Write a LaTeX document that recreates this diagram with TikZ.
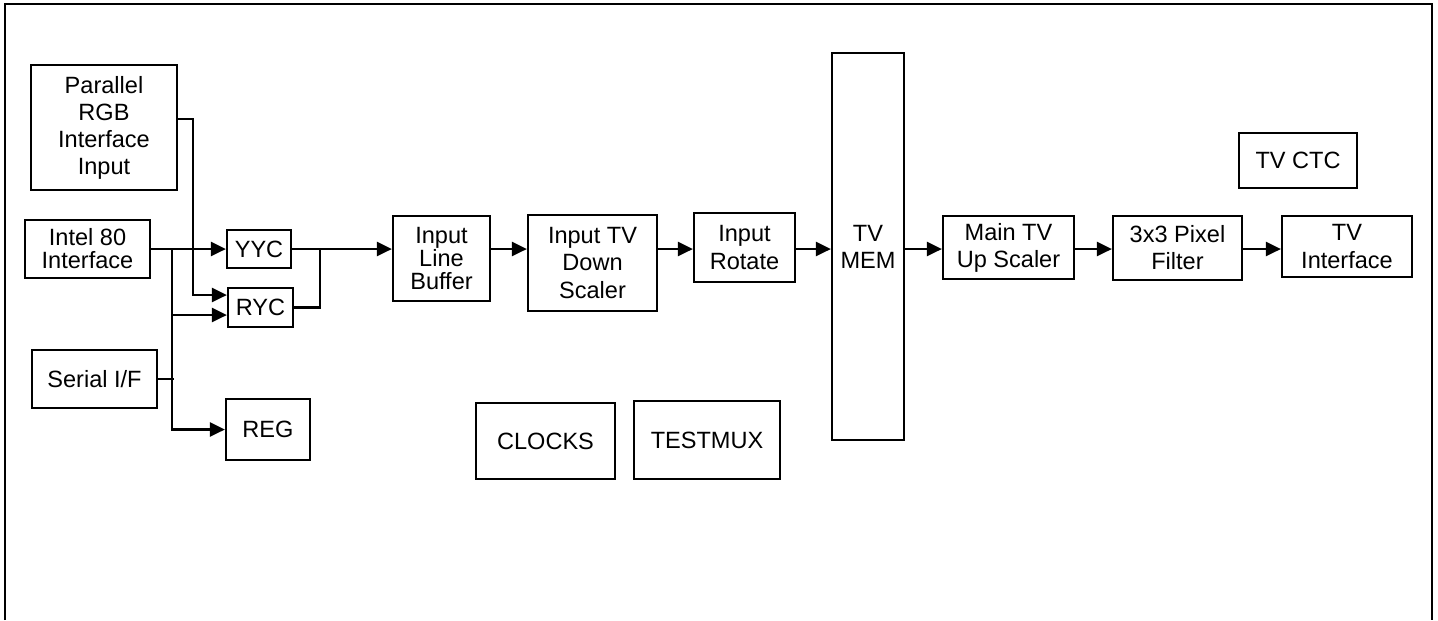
\documentclass[tikz,border=0pt]{standalone}
\usepackage{fontspec}
\setmainfont{Liberation Sans}
\usepackage{tikz}
\usetikzlibrary{positioning, arrows.meta, calc}
\tikzset{
  block/.style={
    draw, line width=1.3pt,
    align=center, inner sep=1pt,
    font=\fontsize{13.4}{15.4}\selectfont
  },
  tight/.style={font=\fontsize{13.4}{13.1}\selectfont},
  io/.style={-{Triangle[length=8.5pt,width=8pt]}, line width=1.2pt},
  wire/.style={line width=1.2pt},
  frame/.style={line width=0.6pt}
}
\begin{document}
\begin{tikzpicture}
  \useasboundingbox (0,0) rectangle (28.76,-12.4);
  % Frame (open at the bottom)
  \draw[frame] (0.1,-12.4) -- (0.1,-0.08) -- (28.64,-0.08) -- (28.64,-12.4);

  % Inputs
  \node[block, minimum width=2.92cm, minimum height=2.5cm] (prgb) at (2.08,-2.55) {Parallel\\RGB\\Interface\\Input};
  \node[block, tight, minimum width=2.5cm, minimum height=1.16cm] (intel) at (1.75,-4.98) {Intel 80\\Interface};
  \node[block, minimum width=2.5cm, minimum height=1.16cm] (serial) at (1.89,-7.58) {Serial I/F};

  % Converters and registers
  \node[block, minimum width=1.28cm, minimum height=0.76cm] (yyc) at (5.18,-4.98) {YYC};
  \node[block, minimum width=1.3cm, minimum height=0.78cm] (ryc) at (5.21,-6.15) {RYC};
  \node[block, minimum width=1.68cm, minimum height=1.22cm] (reg) at (5.36,-8.59) {REG};

  % Input path
  \node[block, tight, minimum width=1.94cm, minimum height=1.7cm] (linebuf) at (8.83,-5.17) {Input\\Line\\Buffer};
  \node[block, minimum width=2.58cm, minimum height=1.92cm] (downscale) at (11.85,-5.26) {Input TV\\Down\\Scaler};
  \node[block, minimum width=2.02cm, minimum height=1.38cm] (rotate) at (14.89,-4.95) {Input\\Rotate};
  \node[block, minimum width=1.44cm, minimum height=7.74cm] (tvmem) at (17.36,-4.93) {TV\\MEM};

  % Output path
  \node[block, minimum width=2.62cm, minimum height=1.26cm] (upscale) at (20.17,-4.95) {Main TV\\Up Scaler};
  \node[block, minimum width=2.58cm, minimum height=1.28cm] (pixfilt) at (23.55,-4.96) {3x3 Pixel\\Filter};
  \node[block, minimum width=2.6cm, minimum height=1.22cm] (tvif) at (26.94,-4.93) {TV\\Interface};
  \node[block, minimum width=2.36cm, minimum height=1.1cm] (tvctc) at (25.96,-3.21) {TV CTC};

  % Misc
  \node[block, minimum width=2.78cm, minimum height=1.52cm] (clocks) at (10.91,-8.82) {CLOCKS};
  \node[block, minimum width=2.92cm, minimum height=1.56cm] (testmux) at (14.14,-8.80) {TESTMUX};

  % Junctions
  \coordinate (split) at (3.44,-4.98);
  \coordinate (rgbdrop) at (3.86,-5.90);
  \coordinate (merge) at (6.40,-4.98);

  % Interface fan-out
  \draw[io] (intel.east) -- (yyc.west);
  \draw[io] (split) |- (reg.west);
  \draw[io] (split |- 0,-6.30) -- (ryc.west |- 0,-6.30);
  \draw[wire] (serial.east) -- ($(split |- serial.east) + (0.04,0)$);
  \draw[io] (prgb.east |- 0,-2.38) -| (rgbdrop) -- (ryc.west |- rgbdrop);

  % Merge into the line buffer
  \draw[io] (yyc.east) -- (linebuf.west |- yyc.east);
  \draw[wire] (ryc.east) -| (merge);

  % Main chain
  \draw[io] (linebuf.east |- yyc) -- (downscale.west |- yyc);
  \draw[io] (downscale.east |- yyc) -- (rotate.west |- yyc);
  \draw[io] (rotate.east |- yyc) -- (tvmem.west |- yyc);
  \draw[io] (tvmem.east |- yyc) -- (upscale.west |- yyc);
  \draw[io] (upscale.east |- yyc) -- (pixfilt.west |- yyc);
  \draw[io] (pixfilt.east |- yyc) -- (tvif.west |- yyc);

\end{tikzpicture}
\end{document}
